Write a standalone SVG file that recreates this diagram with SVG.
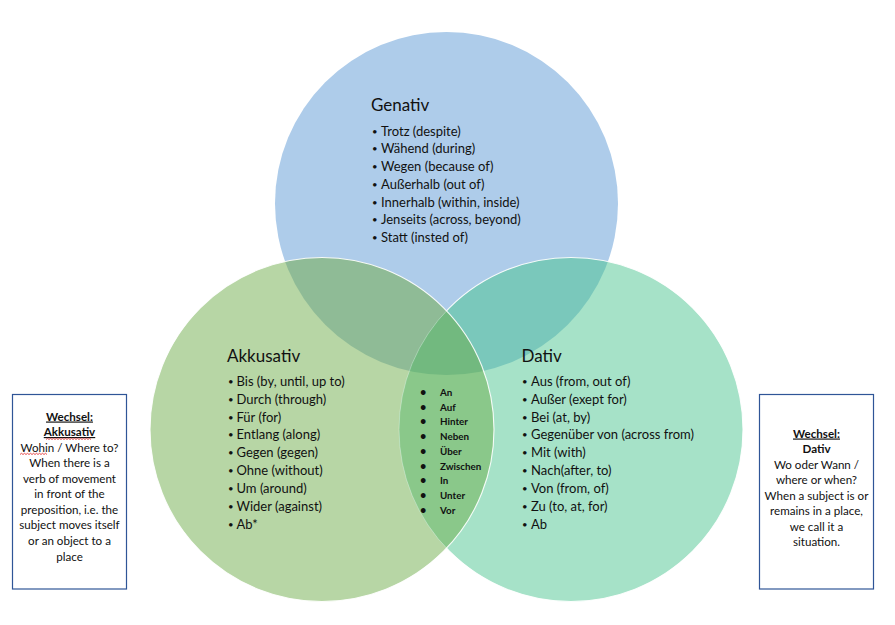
<svg xmlns="http://www.w3.org/2000/svg" width="895" height="625" viewBox="0 0 895 625">
<style>
  text { font-family: Lato, "Liberation Sans", sans-serif; fill: #111; }
  .h { font-size: 17px; }
  .li { font-size: 13px; }
  .bl { font-size: 9.5px; }
  .c { font-size: 9.8px; font-weight: bold; }
  .cb { font-size: 11px; }
  .bx { font-size: 11.6px; text-anchor: middle; }
  .b { font-weight: bold; }
  .u { text-decoration: underline; }
  .box { fill: #fff; stroke: #2F5597; stroke-width: 1.2; }
  .sq { fill: none; stroke: #E02020; stroke-width: 0.8; }
</style>
<defs>
  <clipPath id="cT"><circle cx="446.5" cy="203.5" r="171.5"/></clipPath>
  <clipPath id="cL"><circle cx="322" cy="429.5" r="172"/></clipPath>
  <mask id="outL" maskUnits="userSpaceOnUse" x="0" y="0" width="895" height="625">
    <rect width="895" height="625" fill="#fff"/>
    <circle cx="322" cy="429.5" r="172" fill="#000"/>
  </mask>
</defs>

<g id="venn">
  <circle id="genativ-circle" cx="446.5" cy="203.5" r="171.5" fill="#AECCEA"/>
  <circle id="akkusativ-circle" cx="322" cy="429.5" r="172" fill="#B7D6A5"/>
  <circle id="dativ-circle" cx="571" cy="429.5" r="172" fill="#A6E2C8"/>
  <g clip-path="url(#cT)"><circle cx="322" cy="429.5" r="172" fill="#8FBB96"/></g>
  <g clip-path="url(#cT)"><circle cx="571" cy="429.5" r="172" fill="#7AC8BB"/></g>
  <g clip-path="url(#cL)"><circle cx="571" cy="429.5" r="172" fill="#8AC88A"/></g>
  <g clip-path="url(#cL)"><g clip-path="url(#cT)"><circle cx="571" cy="429.5" r="172" fill="#72B97F"/></g></g>
  <g clip-path="url(#cL)"><circle cx="571" cy="429.5" r="172" fill="none" stroke="#fff" stroke-opacity="0.3" stroke-width="1"/></g>
  <circle cx="571" cy="429.5" r="172" fill="none" stroke="#fff" stroke-opacity="0.9" stroke-width="1.1" mask="url(#outL)"/>
  <circle cx="322" cy="429.5" r="172" fill="none" stroke="#fff" stroke-opacity="0.9" stroke-width="1.1"/>
</g>

<g id="genativ">
  <text class="h" x="371" y="111">Genativ</text>
  <text class="li" y="135.5"><tspan class="bl" x="372" dy="-1">•</tspan><tspan x="381" dy="1">Trotz (despite)</tspan></text>
  <text class="li" y="153.3"><tspan class="bl" x="372" dy="-1">•</tspan><tspan x="381" dy="1">Wähend (during)</tspan></text>
  <text class="li" y="171"><tspan class="bl" x="372" dy="-1">•</tspan><tspan x="381" dy="1">Wegen (because of)</tspan></text>
  <text class="li" y="188.8"><tspan class="bl" x="372" dy="-1">•</tspan><tspan x="381" dy="1">Außerhalb (out of)</tspan></text>
  <text class="li" y="206.5"><tspan class="bl" x="372" dy="-1">•</tspan><tspan x="381" dy="1">Innerhalb (within, inside)</tspan></text>
  <text class="li" y="224.3"><tspan class="bl" x="372" dy="-1">•</tspan><tspan x="381" dy="1">Jenseits (across, beyond)</tspan></text>
  <text class="li" y="242"><tspan class="bl" x="372" dy="-1">•</tspan><tspan x="381" dy="1">Statt (insted of)</tspan></text>
</g>

<g id="akkusativ">
  <text class="h" x="227" y="361.5">Akkusativ</text>
  <text class="li" y="385.7"><tspan class="bl" x="228" dy="-1">•</tspan><tspan x="236.5" dy="1">Bis (by, until, up to)</tspan></text>
  <text class="li" y="403.6"><tspan class="bl" x="228" dy="-1">•</tspan><tspan x="236.5" dy="1">Durch (through)</tspan></text>
  <text class="li" y="421.5"><tspan class="bl" x="228" dy="-1">•</tspan><tspan x="236.5" dy="1">Für (for)</tspan></text>
  <text class="li" y="439.4"><tspan class="bl" x="228" dy="-1">•</tspan><tspan x="236.5" dy="1">Entlang (along)</tspan></text>
  <text class="li" y="457.3"><tspan class="bl" x="228" dy="-1">•</tspan><tspan x="236.5" dy="1">Gegen (gegen)</tspan></text>
  <text class="li" y="475.2"><tspan class="bl" x="228" dy="-1">•</tspan><tspan x="236.5" dy="1">Ohne (without)</tspan></text>
  <text class="li" y="493.1"><tspan class="bl" x="228" dy="-1">•</tspan><tspan x="236.5" dy="1">Um (around)</tspan></text>
  <text class="li" y="511"><tspan class="bl" x="228" dy="-1">•</tspan><tspan x="236.5" dy="1">Wider (against)</tspan></text>
  <text class="li" y="528.9"><tspan class="bl" x="228" dy="-1">•</tspan><tspan x="236.5" dy="1">Ab*</tspan></text>
</g>

<g id="dativ">
  <text class="h" x="521.5" y="361.5">Dativ</text>
  <text class="li" y="385.7"><tspan class="bl" x="522" dy="-1">•</tspan><tspan x="531" dy="1">Aus (from, out of)</tspan></text>
  <text class="li" y="403.6"><tspan class="bl" x="522" dy="-1">•</tspan><tspan x="531" dy="1">Außer (exept for)</tspan></text>
  <text class="li" y="421.5"><tspan class="bl" x="522" dy="-1">•</tspan><tspan x="531" dy="1">Bei (at, by)</tspan></text>
  <text class="li" y="439.4"><tspan class="bl" x="522" dy="-1">•</tspan><tspan x="531" dy="1">Gegenüber von (across from)</tspan></text>
  <text class="li" y="457.3"><tspan class="bl" x="522" dy="-1">•</tspan><tspan x="531" dy="1">Mit (with)</tspan></text>
  <text class="li" y="475.2"><tspan class="bl" x="522" dy="-1">•</tspan><tspan x="531" dy="1">Nach(after, to)</tspan></text>
  <text class="li" y="493.1"><tspan class="bl" x="522" dy="-1">•</tspan><tspan x="531" dy="1">Von (from, of)</tspan></text>
  <text class="li" y="511"><tspan class="bl" x="522" dy="-1">•</tspan><tspan x="531" dy="1">Zu (to, at, for)</tspan></text>
  <text class="li" y="528.9"><tspan class="bl" x="522" dy="-1">•</tspan><tspan x="531" dy="1">Ab</tspan></text>
</g>

<g id="wechsel-center">
  <text class="c" y="395.7"><tspan class="cb" x="420">•</tspan><tspan x="440">An</tspan></text>
  <text class="c" y="410.5"><tspan class="cb" x="420">•</tspan><tspan x="440">Auf</tspan></text>
  <text class="c" y="425.3"><tspan class="cb" x="420">•</tspan><tspan x="440">Hinter</tspan></text>
  <text class="c" y="440"><tspan class="cb" x="420">•</tspan><tspan x="440">Neben</tspan></text>
  <text class="c" y="454.8"><tspan class="cb" x="420">•</tspan><tspan x="440">Über</tspan></text>
  <text class="c" y="469.6"><tspan class="cb" x="420">•</tspan><tspan x="440">Zwischen</tspan></text>
  <text class="c" y="484.4"><tspan class="cb" x="420">•</tspan><tspan x="440">In</tspan></text>
  <text class="c" y="499.2"><tspan class="cb" x="420">•</tspan><tspan x="440">Unter</tspan></text>
  <text class="c" y="514"><tspan class="cb" x="420">•</tspan><tspan x="440">Vor</tspan></text>
</g>

<g id="wechsel-akkusativ-box">
  <rect class="box" x="12.5" y="394.5" width="114" height="194.5"/>
  <text class="bx b u" x="69.5" y="420.5">Wechsel:</text>
  <text class="bx b u" x="69.5" y="436">Akkusativ</text>
  <path class="sq" d="M46 439.5 l1.5 -1.2 l1.5 1.2 l1.5 -1.2 l1.5 1.2 l1.5 -1.2 l1.5 1.2 l1.5 -1.2 l1.5 1.2 l1.5 -1.2 l1.5 1.2 l1.5 -1.2 l1.5 1.2 l1.5 -1.2 l1.5 1.2 l1.5 -1.2 l1.5 1.2 l1.5 -1.2 l1.5 1.2 l1.5 -1.2 l1.5 1.2 l1.5 -1.2 l1.5 1.2 l1.5 -1.2 l1.5 1.2 l1.5 -1.2 l1.5 1.2 l1.5 -1.2 l1.5 1.2 l1.5 -1.2 l1.5 1.2"/>
  <text class="bx" x="69.5" y="451.5">Wohin / Where to?</text>
  <path class="sq" d="M20 454.5 l1.5 -1.2 l1.5 1.2 l1.5 -1.2 l1.5 1.2 l1.5 -1.2 l1.5 1.2 l1.5 -1.2 l1.5 1.2 l1.5 -1.2 l1.5 1.2 l1.5 -1.2 l1.5 1.2 l1.5 -1.2 l1.5 1.2 l1.5 -1.2 l1.5 1.2 l1.5 -1.2 l1.5 1.2"/>
  <text class="bx" x="69.5" y="467">When there is a</text>
  <text class="bx" x="69.5" y="482.5">verb of movement</text>
  <text class="bx" x="69.5" y="498">in front of the</text>
  <text class="bx" x="69.5" y="513.5">preposition, i.e. the</text>
  <text class="bx" x="69.5" y="529">subject moves itself</text>
  <text class="bx" x="69.5" y="544.5">or an object to a</text>
  <text class="bx" x="69.5" y="560.5">place</text>
</g>

<g id="wechsel-dativ-box">
  <rect class="box" x="759.5" y="394.5" width="114" height="194.5"/>
  <text class="bx b u" x="816.5" y="437.5">Wechsel:</text>
  <text class="bx b" x="816.5" y="453">Dativ</text>
  <text class="bx" x="816.5" y="468.5">Wo oder Wann /</text>
  <text class="bx" x="816.5" y="484">where or when?</text>
  <text class="bx" x="816.5" y="499.5">When a subject is or</text>
  <text class="bx" x="816.5" y="515">remains in a place,</text>
  <text class="bx" x="816.5" y="530.5">we call it a</text>
  <text class="bx" x="816.5" y="546">situation.</text>
</g>
</svg>
